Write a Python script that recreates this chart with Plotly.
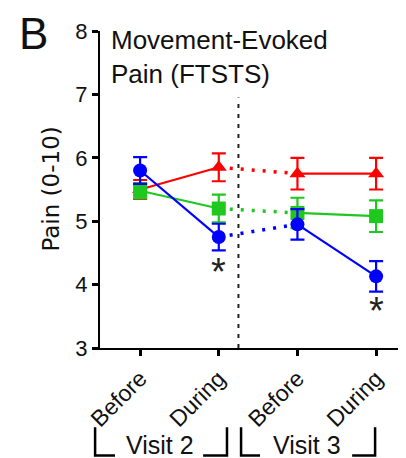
import plotly.graph_objects as go

# ---- data ----
categories = ["Before", "During", "Before", "During"]
visit_labels = ["Visit 2", "Visit 3"]
x_pos = [0, 1, 2, 3]

red_mean = [5.50, 5.85, 5.75, 5.75]
red_err = [0.15, 0.22, 0.25, 0.25]
green_mean = [5.48, 5.20, 5.13, 5.08]
green_err = [0.12, 0.22, 0.24, 0.25]
blue_mean = [5.80, 4.75, 4.95, 4.13]
blue_err = [0.21, 0.21, 0.24, 0.24]

sig_x = [1, 3]
sig_y = [4.20, 3.58]

FONT = "Liberation Sans, Arial, sans-serif"
NARROW = "Liberation Sans Narrow, Arial Narrow, Liberation Sans, sans-serif"

series = [
    ("#FF0000", "triangle-up", red_mean, red_err),
    ("#1EC81E", "square", green_mean, green_err),
    ("#0000FF", "circle", blue_mean, blue_err),
]

fig = go.Figure()
for color, symbol, mean, err in series:
    fig.add_trace(go.Scatter(
        x=x_pos[0:2] + [None] + x_pos[2:4],
        y=mean[0:2] + [None] + mean[2:4],
        mode="lines", line=dict(color=color, width=2.2),
        hoverinfo="skip", showlegend=False))
    fig.add_trace(go.Scatter(
        x=x_pos[1:3], y=mean[1:3],
        mode="lines", line=dict(color=color, width=3.5, dash="3px,8px"),
        hoverinfo="skip", showlegend=False))
    fig.add_trace(go.Scatter(
        x=x_pos, y=mean, mode="markers",
        marker=dict(color=color, symbol=symbol, size=14, line=dict(width=0)),
        error_y=dict(type="data", array=err, color=color, thickness=2.2, width=7),
        showlegend=False))

for xs, ys in zip(sig_x, sig_y):
    fig.add_annotation(x=xs, y=ys, xref="x", yref="y", text="*", showarrow=False,
                       font=dict(family=FONT, size=38, color="#222"), yanchor="middle")

fig.add_shape(type="line", xref="x", yref="y", x0=1.25, x1=1.25, y0=3, y1=6.95,
              line=dict(color="#222", width=2, dash="4px,6px"))

br_top, br_bot = -0.25, -0.339
brackets = [(-0.016, 0.049, 0.337, 0.415), (0.461, 0.523, 0.824, 0.899)]
for (a, b, c, d) in brackets:
    fig.add_shape(type="path", xref="paper", yref="paper",
                  path=f"M {a} {br_top} L {a} {br_bot} L {b} {br_bot}",
                  line=dict(color="black", width=2.5))
    fig.add_shape(type="path", xref="paper", yref="paper",
                  path=f"M {c} {br_bot} L {d} {br_bot} L {d} {br_top}",
                  line=dict(color="black", width=2.5))
for lbl, xc in zip(visit_labels, [0.196, 0.676]):
    fig.add_annotation(x=xc, y=-0.305, xref="paper", yref="paper", text=lbl,
                       showarrow=False, font=dict(family=FONT, size=25, color="#111"),
                       xanchor="center", yanchor="middle")

fig.add_annotation(x=0.03, y=1.025, xref="paper", yref="paper",
                   text="Movement-Evoked<br>Pain (FTSTS)", showarrow=False, align="left",
                   xanchor="left", yanchor="top", font=dict(family=NARROW, size=26, color="#111"))
fig.add_annotation(x=-0.27, y=1.075, xref="paper", yref="paper", text="B", showarrow=False,
                   xanchor="left", yanchor="top", font=dict(family=FONT, size=44, color="#111"))
fig.add_annotation(x=-0.163, y=0.5, xref="paper", yref="paper", text="Pain (0-10)",
                   textangle=-90, showarrow=False, xanchor="center", yanchor="middle",
                   font=dict(family="DejaVu Sans, sans-serif", size=23, color="#111"))

# page body has an 8px margin: size the figure so the plot area lands where the reference has it
fig.update_layout(
    width=398, height=450,
    margin=dict(l=92, r=0, t=23, b=110),
    paper_bgcolor="white", plot_bgcolor="white",
    font=dict(family=FONT, color="#111"),
    xaxis=dict(range=[-0.51, 3.38], tickvals=x_pos, ticktext=categories, tickangle=-45,
               showline=True, linecolor="black", linewidth=2, ticks="outside",
               ticklen=6, tickwidth=2.5, tickcolor="black", showgrid=False, zeroline=False,
               tickfont=dict(size=23, family=FONT, color="#111")),
    yaxis=dict(range=[3, 8], dtick=1, tick0=3, showline=True, linecolor="black",
               linewidth=2, ticks="outside", ticklen=6, tickwidth=2.5, tickcolor="black",
               showgrid=False, zeroline=False,
               tickfont=dict(size=22, family=NARROW, color="#111")),
)

fig.write_html("out.html")
